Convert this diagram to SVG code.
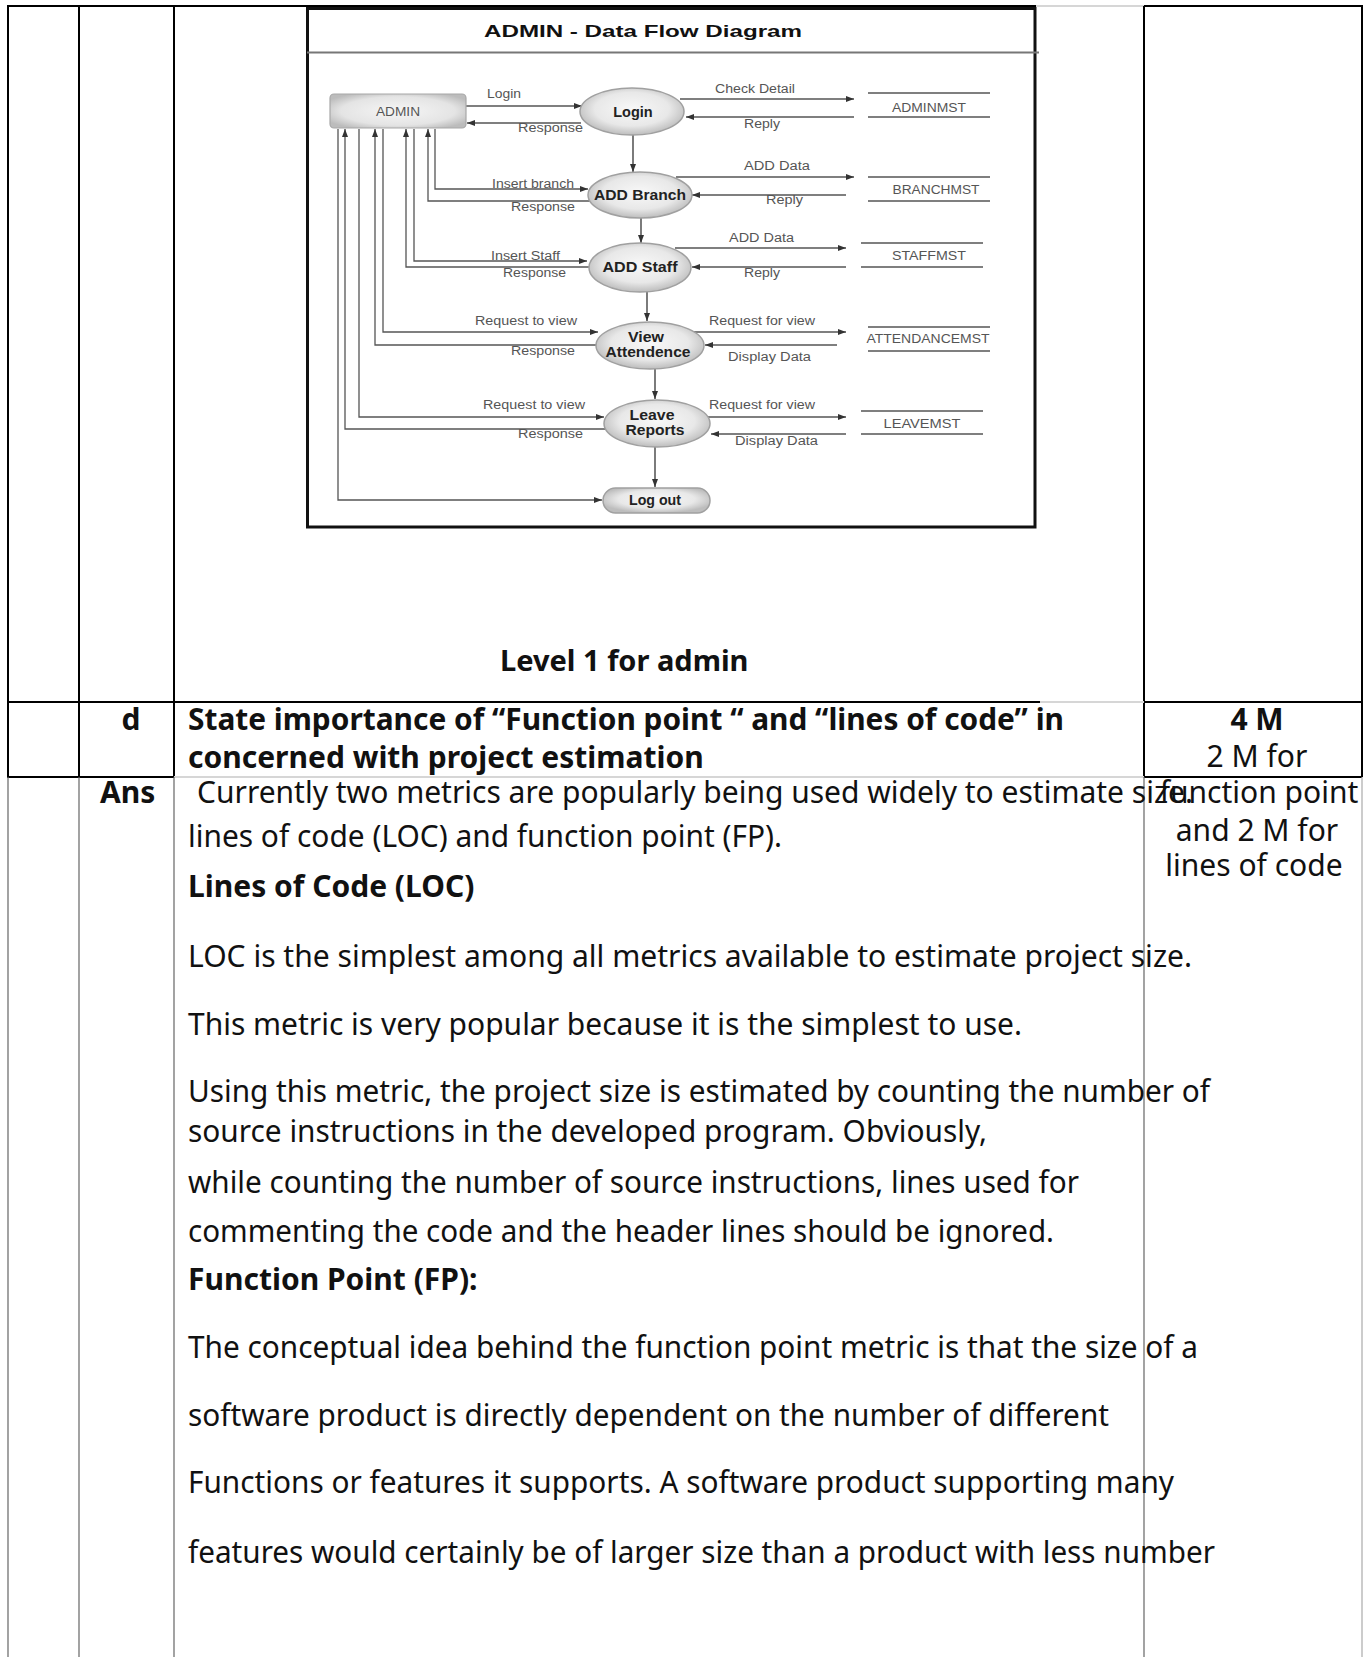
<svg xmlns="http://www.w3.org/2000/svg" width="1369" height="1657" viewBox="0 0 1369 1657">
<defs>
  <radialGradient id="eg" cx="50%" cy="45%" r="55%">
    <stop offset="0" stop-color="#f8f8f8"/>
    <stop offset="0.65" stop-color="#e8e8e8"/>
    <stop offset="1" stop-color="#bdbdbd"/>
  </radialGradient>
  <radialGradient id="bg" cx="50%" cy="50%" r="60%">
    <stop offset="0" stop-color="#f6f6f6"/>
    <stop offset="0.7" stop-color="#e4e4e4"/>
    <stop offset="1" stop-color="#bcbcbc"/>
  </radialGradient>
  <marker id="ah" viewBox="0 0 8 6" refX="8" refY="3" markerWidth="8" markerHeight="6" markerUnits="userSpaceOnUse" orient="auto" preserveAspectRatio="none">
    <path d="M0,0 L8,3 L0,6 z" fill="#333"/>
  </marker>
</defs>
<style>
  .tb{stroke:#000;stroke-width:2;fill:none}
  .tg{stroke:#d6d6d6;stroke-width:2;fill:none}
  .tl{stroke:#666;stroke-width:1.2;fill:none}
  .tlr{stroke:#aaa;stroke-width:1.2;fill:none}
  .body{font-family:"Noto Sans","Liberation Sans",sans-serif;font-size:30px;fill:#111}
  .b{font-weight:bold}
  .lvl{font-family:"Noto Sans","Liberation Sans",sans-serif;font-size:29px;font-weight:bold;fill:#111}
  .dl{font-family:"Liberation Sans",Arial,sans-serif;font-size:12.5px;fill:#555}
  .ds{font-family:"Liberation Sans",Arial,sans-serif;font-size:12.5px;fill:#555;text-anchor:middle}
  .nl{font-family:"Liberation Sans",Arial,sans-serif;font-size:14.5px;font-weight:bold;fill:#222;text-anchor:middle}
  .conn{stroke:#555;stroke-width:1.3;fill:none}
  .flow{stroke:#444;stroke-width:1.4;fill:none}
  .store{stroke:#555;stroke-width:1.3;fill:none}
  .ell{fill:url(#eg);stroke:#a0a0a0;stroke-width:1.5}
</style>

<rect width="1369" height="1657" fill="#fff"/>

<g id="table">
  <path class="tb" d="M7,6 H1036"/>
  <path class="tg" d="M1036,6 H1144"/>
  <path class="tb" d="M1144,6 H1362"/>
  <path class="tb" d="M8,5 V777 M79,6 V777 M174,6 V777 M1144,6 V777 M1362,5 V777"/>
  <path class="tb" d="M7,702 H1040"/>
  <path class="tg" d="M1040,702 H1144"/>
  <path class="tb" d="M1144,702 H1362"/>
  <path class="tb" d="M7,777 H174"/>
  <path class="tg" d="M174,777 H1144"/>
  <path class="tb" d="M1144,777 H1362"/>
  <path class="tl" d="M8,777 V1657 M79,777 V1657 M174,777 V1657 M1144,777 V1657"/>
  <path class="tlr" d="M1362,777 V1657"/>
</g>

<g id="dfd-frame">
  <rect x="307.5" y="8.5" width="727.5" height="518.5" fill="#fff" stroke="#111" stroke-width="3"/>
  <path d="M307,52.5 H1039" stroke="#777" stroke-width="2"/>
  <text x="484" y="37" font-family="Liberation Sans, Arial, sans-serif" font-size="17" font-weight="bold" fill="#111" textLength="318" lengthAdjust="spacingAndGlyphs">ADMIN - Data Flow Diagram</text>
</g>

<g id="connectors">
  <path class="conn" marker-end="url(#ah)" d="M466,106 H582"/>
  <path class="conn" marker-end="url(#ah)" d="M581,123 H467"/>
  <path class="conn" marker-end="url(#ah)" d="M680,99 H854"/>
  <path class="conn" marker-end="url(#ah)" d="M854,117 H686"/>
  <path class="flow" marker-end="url(#ah)" d="M633,135 V172"/>
  <path class="conn" marker-end="url(#ah)" d="M676,177 H854"/>
  <path class="conn" marker-end="url(#ah)" d="M846,195 H692"/>
  <path class="conn" marker-end="url(#ah)" d="M435,129 V189 H588"/>
  <path class="conn" marker-end="url(#ah)" d="M590,201 H428 V129"/>
  <path class="flow" marker-end="url(#ah)" d="M641,218 V243"/>
  <path class="conn" marker-end="url(#ah)" d="M675,248 H846"/>
  <path class="conn" marker-end="url(#ah)" d="M846,267 H692"/>
  <path class="conn" marker-end="url(#ah)" d="M414,129 V261 H587"/>
  <path class="conn" marker-end="url(#ah)" d="M589,267 H406 V129"/>
  <path class="flow" marker-end="url(#ah)" d="M647,292 V321"/>
  <path class="conn" marker-end="url(#ah)" d="M383,129 V332 H598"/>
  <path class="conn" marker-end="url(#ah)" d="M597,345 H375 V129"/>
  <path class="conn" marker-end="url(#ah)" d="M694,332 H846"/>
  <path class="conn" marker-end="url(#ah)" d="M837,345 H705"/>
  <path class="flow" marker-end="url(#ah)" d="M655,369 V399"/>
  <path class="conn" marker-end="url(#ah)" d="M359,129 V417 H604"/>
  <path class="conn" marker-end="url(#ah)" d="M605,429 H345 V129"/>
  <path class="conn" marker-end="url(#ah)" d="M703,417 H846"/>
  <path class="conn" marker-end="url(#ah)" d="M846,434 H711"/>
  <path class="flow" marker-end="url(#ah)" d="M655,447 V487"/>
  <path class="conn" marker-end="url(#ah)" d="M338,129 V500 H602"/>

  <text class="dl" x="487" y="98" textLength="34" lengthAdjust="spacingAndGlyphs">Login</text>
  <text class="dl" x="518" y="132" textLength="65" lengthAdjust="spacingAndGlyphs">Response</text>
  <text class="dl" x="715" y="93" textLength="80" lengthAdjust="spacingAndGlyphs">Check Detail</text>
  <text class="dl" x="744" y="128" textLength="36" lengthAdjust="spacingAndGlyphs">Reply</text>
  <text class="dl" x="744" y="170" textLength="66" lengthAdjust="spacingAndGlyphs">ADD Data</text>
  <text class="dl" x="766" y="204" textLength="37" lengthAdjust="spacingAndGlyphs">Reply</text>
  <text class="dl" x="492" y="188" textLength="82" lengthAdjust="spacingAndGlyphs">Insert branch</text>
  <text class="dl" x="511" y="211" textLength="64" lengthAdjust="spacingAndGlyphs">Response</text>
  <text class="dl" x="729" y="242" textLength="65" lengthAdjust="spacingAndGlyphs">ADD Data</text>
  <text class="dl" x="744" y="277" textLength="36" lengthAdjust="spacingAndGlyphs">Reply</text>
  <text class="dl" x="491" y="260" textLength="69" lengthAdjust="spacingAndGlyphs">Insert Staff</text>
  <text class="dl" x="503" y="277" textLength="63" lengthAdjust="spacingAndGlyphs">Response</text>
  <text class="dl" x="475" y="325" textLength="102" lengthAdjust="spacingAndGlyphs">Request to view</text>
  <text class="dl" x="511" y="355" textLength="64" lengthAdjust="spacingAndGlyphs">Response</text>
  <text class="dl" x="709" y="325" textLength="106" lengthAdjust="spacingAndGlyphs">Request for view</text>
  <text class="dl" x="728" y="361" textLength="83" lengthAdjust="spacingAndGlyphs">Display Data</text>
  <text class="dl" x="483" y="409" textLength="102" lengthAdjust="spacingAndGlyphs">Request to view</text>
  <text class="dl" x="518" y="438" textLength="65" lengthAdjust="spacingAndGlyphs">Response</text>
  <text class="dl" x="709" y="409" textLength="106" lengthAdjust="spacingAndGlyphs">Request for view</text>
  <text class="dl" x="735" y="445" textLength="83" lengthAdjust="spacingAndGlyphs">Display Data</text>
</g>

<g id="node-admin">
  <rect x="330" y="94" width="136" height="34" rx="4" fill="url(#bg)" stroke="#a8a8a8" stroke-width="1.2"/>
  <text class="ds" x="398" y="116" fill="#444" textLength="44" lengthAdjust="spacingAndGlyphs">ADMIN</text>
</g>
<g id="node-login">
  <ellipse class="ell" cx="632" cy="111.5" rx="52" ry="23.5"/>
  <text class="nl" x="633" y="117">Login</text>
</g>
<g id="node-add-branch">
  <ellipse class="ell" cx="640" cy="195" rx="52" ry="23"/>
  <text class="nl" x="640" y="200" textLength="92" lengthAdjust="spacingAndGlyphs">ADD Branch</text>
</g>
<g id="node-add-staff">
  <ellipse class="ell" cx="640" cy="267.5" rx="51" ry="24.5"/>
  <text class="nl" x="640" y="272" textLength="75" lengthAdjust="spacingAndGlyphs">ADD Staff</text>
</g>
<g id="node-view-attendence">
  <ellipse class="ell" cx="650" cy="345.5" rx="54" ry="23.5"/>
  <text class="nl" x="646" y="342" font-size="14" textLength="36" lengthAdjust="spacingAndGlyphs">View</text>
  <text class="nl" x="648" y="357" font-size="14" textLength="85" lengthAdjust="spacingAndGlyphs">Attendence</text>
</g>
<g id="node-leave-reports">
  <ellipse class="ell" cx="657" cy="423.5" rx="53" ry="23.5"/>
  <text class="nl" x="652" y="420" font-size="14" textLength="45" lengthAdjust="spacingAndGlyphs">Leave</text>
  <text class="nl" x="655" y="435" font-size="14" textLength="59" lengthAdjust="spacingAndGlyphs">Reports</text>
</g>
<g id="node-logout">
  <rect x="603" y="488" width="107" height="25" rx="12.5" fill="url(#eg)" stroke="#a0a0a0" stroke-width="1.5"/>
  <text class="nl" x="655" y="505" font-size="13.5" fill="#333" textLength="52" lengthAdjust="spacingAndGlyphs">Log out</text>
</g>
<g id="store-adminmst">
  <path class="store" d="M868,93 H990 M868,117 H990"/>
  <text class="ds" x="929" y="112" textLength="74" lengthAdjust="spacingAndGlyphs">ADMINMST</text>
</g>
<g id="store-branchmst">
  <path class="store" d="M868,177 H990 M868,201 H990"/>
  <text class="ds" x="936" y="194" textLength="87" lengthAdjust="spacingAndGlyphs">BRANCHMST</text>
</g>
<g id="store-staffmst">
  <path class="store" d="M861,243 H983 M861,267 H983"/>
  <text class="ds" x="929" y="260" textLength="74" lengthAdjust="spacingAndGlyphs">STAFFMST</text>
</g>
<g id="store-attendancemst">
  <path class="store" d="M868,327 H990 M868,351 H990"/>
  <text class="ds" x="928" y="343" textLength="123" lengthAdjust="spacingAndGlyphs">ATTENDANCEMST</text>
</g>
<g id="store-leavemst">
  <path class="store" d="M861,411 H983 M861,434 H983"/>
  <text class="ds" x="922" y="428" textLength="77" lengthAdjust="spacingAndGlyphs">LEAVEMST</text>
</g>

<g id="caption">
  <text class="lvl" x="500" y="671">Level 1 for admin</text>
</g>

<g id="question-row">
  <text class="body b" x="131" y="730" text-anchor="middle">d</text>
  <text class="body b" x="188" y="730" textLength="876" lengthAdjust="spacingAndGlyphs">State importance of “Function point “ and “lines of code” in</text>
  <text class="body b" x="188" y="768">concerned with project estimation</text>
  <text class="body b" x="1257" y="730" text-anchor="middle">4 M</text>
  <text class="body" x="1257" y="767" text-anchor="middle">2 M for</text>
</g>

<g id="answer">
  <text class="body b" x="100" y="803">Ans</text>
  <text class="body" x="197" y="803" textLength="996" lengthAdjust="spacingAndGlyphs">Currently two metrics are popularly being used widely to estimate size.</text>
  <text class="body" x="1259" y="803" text-anchor="middle">function point</text>
  <text class="body" x="1257" y="841" text-anchor="middle">and 2 M for</text>
  <text class="body" x="1254" y="876" text-anchor="middle">lines of code</text>
  <text class="body" x="188" y="847" textLength="594" lengthAdjust="spacingAndGlyphs">lines of code (LOC) and function point (FP).</text>
  <text class="body b" x="188" y="897">Lines of Code (LOC)</text>
  <text class="body" x="188" y="967" textLength="1004" lengthAdjust="spacingAndGlyphs">LOC is the simplest among all metrics available to estimate project size.</text>
  <text class="body" x="188" y="1035" textLength="834" lengthAdjust="spacingAndGlyphs">This metric is very popular because it is the simplest to use.</text>
  <text class="body" x="188" y="1102" textLength="1022" lengthAdjust="spacingAndGlyphs">Using this metric, the project size is estimated by counting the number of</text>
  <text class="body" x="188" y="1142" textLength="799" lengthAdjust="spacingAndGlyphs">source instructions in the developed program. Obviously,</text>
  <text class="body" x="188" y="1193" textLength="891" lengthAdjust="spacingAndGlyphs">while counting the number of source instructions, lines used for</text>
  <text class="body" x="188" y="1242" textLength="866" lengthAdjust="spacingAndGlyphs">commenting the code and the header lines should be ignored.</text>
  <text class="body b" x="188" y="1290">Function Point (FP):</text>
  <text class="body" x="188" y="1358" textLength="1010" lengthAdjust="spacingAndGlyphs">The conceptual idea behind the function point metric is that the size of a</text>
  <text class="body" x="188" y="1426" textLength="921" lengthAdjust="spacingAndGlyphs">software product is directly dependent on the number of different</text>
  <text class="body" x="188" y="1493" textLength="986" lengthAdjust="spacingAndGlyphs">Functions or features it supports. A software product supporting many</text>
  <text class="body" x="188" y="1563" textLength="1027" lengthAdjust="spacingAndGlyphs">features would certainly be of larger size than a product with less number</text>
</g>
</svg>
